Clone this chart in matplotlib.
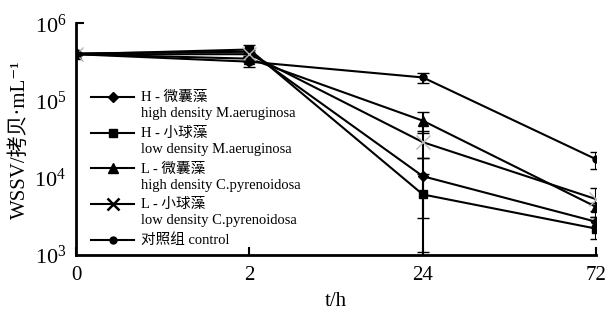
import matplotlib
matplotlib.use('Agg')
import matplotlib.pyplot as plt
from matplotlib.lines import Line2D
from matplotlib.ticker import FixedLocator, LogFormatterMathtext, NullLocator

plt.rcParams['mathtext.fontset'] = 'stix'
plt.rcParams['font.family'] = ['Liberation Serif', 'Noto Sans CJK SC', 'DejaVu Serif']

# ---- data ----
times = ['0', '2', '24', '72']
labels = ['H - 微囊藻\nhigh density M.aeruginosa',
          'H - 小球藻\nlow density M.aeruginosa',
          'L - 微囊藻\nhigh density C.pyrenoidosa',
          'L - 小球藻\nlow density C.pyrenoidosa',
          '对照组 control']
h_mic = [4.1e5, 4.3e5, 1.05e4, 2.7e3]
h_mic_err = [1e4, 3e4, 7.5e3, 4e2]
h_chl = [4.0e5, 4.6e5, 6.1e3, 2.2e3]
h_chl_err = [1e4, 6e4, 5.0e3, 6e2]
l_mic = [4.0e5, 3.5e5, 5.5e4, 4.2e3]
l_mic_err = [1e4, 3e4, 1.7e4, 5e2]
l_chl = [4.0e5, 4.0e5, 2.9e4, 5.3e3]
l_chl_err = [1e4, 3e4, 1.1e4, 2.2e3]
control = [4.0e5, 3.2e5, 2.0e5, 1.74e4]
control_err = [1e4, 5e4, 3e4, 4.5e3]

values = [h_mic, h_chl, l_mic, l_chl, control]
errors = [h_mic_err, h_chl_err, l_mic_err, l_chl_err, control_err]
markers = ['D', 's', '^', 'x', 'o']
msizes = [5, 5.5, 6.5, 10, 5]
mcolors = ['black', 'black', 'black', '#b8b8b8', 'black']

fig = plt.figure(figsize=(6.09, 3.13), dpi=100)
ax = fig.add_axes([0.125, 0.185, 0.854, 0.74])

x = list(range(len(times)))
for v, e, m, ms, mc in zip(values, errors, markers, msizes, mcolors):
    ax.errorbar(x, v, yerr=e, color='black', lw=1.5, marker=m, ms=ms,
                mfc=mc, mec=mc, mew=1.0,
                capsize=4, capthick=1.5, elinewidth=1.5, zorder=3)

ax.set_yscale('log')
ax.set_ylim(1e3, 1e6)
ax.set_xlim(0, 3)
ax.set_xticks(x)
ax.set_xticklabels(times)
ax.yaxis.set_major_locator(FixedLocator([1e3, 1e4, 1e5, 1e6]))
ax.yaxis.set_major_formatter(LogFormatterMathtext())
ax.yaxis.set_minor_locator(NullLocator())

for s in ['top', 'right']:
    ax.spines[s].set_visible(False)
for s in ['left', 'bottom']:
    ax.spines[s].set_linewidth(2)

ax.tick_params(axis='both', direction='in', length=6, width=1.5)
ax.tick_params(axis='x', pad=8, labelsize=15)
ax.tick_params(axis='y', pad=7, labelsize=16)
for t in ax.yaxis.get_major_ticks()[:-1]:
    t.tick1line.set_visible(False)

ax.set_xlabel('t/h', fontsize=15, labelpad=5)
ax.set_ylabel('WSSV/拷贝·mL⁻¹', fontsize=15, labelpad=3)

handles = [Line2D([], [], color='black', lw=1.5, marker=m,
                  ms=(ms if m != 'x' else 8), mfc='black', mec='black',
                  mew=(1.8 if m == 'x' else 1.0))
           for m, ms in zip(markers, msizes)]
leg = ax.legend(handles, labels, loc='upper left', bbox_to_anchor=(0.028, 0.71),
                frameon=False, fontsize=10.5, handlelength=3.0, handletextpad=0.45,
                handleheight=1.1, labelspacing=0.45, borderpad=0, borderaxespad=0)
for t in leg.get_texts():
    t.set_linespacing(1.3)
for col in leg._legend_handle_box.get_children():
    for item in col.get_children():
        item.align = 'top'

fig.savefig('out.png', dpi=100)
